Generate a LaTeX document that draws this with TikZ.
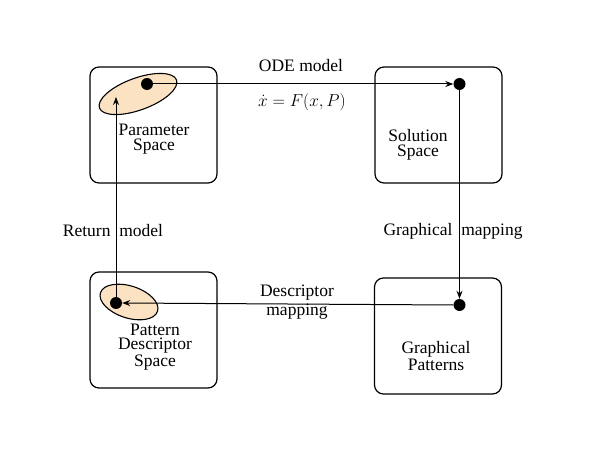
\documentclass[tikz,border=0pt]{standalone}
\usepackage{fontspec}
\setmainfont{Liberation Serif}
\usetikzlibrary{shapes.geometric,arrows.meta}
\definecolor{peach}{HTML}{FBE2C2}
\begin{document}
\begin{tikzpicture}[x=1pt,y=-1pt,
  spacebox/.style={draw, rounded corners=9pt, line width=1.2pt, minimum width=127pt, minimum height=116pt, inner sep=0pt},
  blob/.style={ellipse, draw, line width=1.1pt, fill=peach, inner sep=0pt},
  dot/.style={circle, fill=black, minimum size=12pt, inner sep=0pt},
  lbl/.style={font=\fontsize{17.5}{14.5}\selectfont, align=center, inner sep=0pt},
  conn/.style={line width=1pt, -{Stealth[length=8pt,width=6pt]}}
]
\useasboundingbox (0,0) rectangle (600,449);
% boxes
\node[spacebox] (b1) at (153.5,125) {};
\node[spacebox] (b2) at (438.5,125) {};
\node[spacebox] (b3) at (438,336) {};
\node[spacebox] (b4) at (153.5,330) {};
% ellipses
\node[blob, minimum width=82pt, minimum height=32pt, rotate=20] (e1) at (138,94) {};
\node[blob, minimum width=60pt, minimum height=32pt, rotate=-18] (e2) at (129,302) {};
% dots
\node[dot] (d1) at (147,84) {};
\node[dot] (d2) at (459.5,84) {};
\node[dot] (d3) at (459.5,305) {};
\node[dot] (d4) at (116,303) {};
\coordinate (r1) at (116,97);
% box texts
\node[lbl] (t1) at (154,139) {Parameter\\Space};
\node[lbl] (t2) at (418,145) {Solution\\Space};
\node[lbl] (t3) at (436,356) {Graphical\\Patterns};
\node[lbl] (t4) at (155,347) {Pattern\\Descriptor\\Space};
% connectors
\draw[conn] (d1) -- (d2);
\draw[conn] (d2) -- (d3);
\draw[conn] (d3.west) -- (d4.east);
\draw[conn] (d4.north) -- (r1);
% connector labels
\node[lbl] (l1) at (301,66) {ODE model};
\node[lbl, font=\fontsize{16.5}{18}\selectfont] (l2) at (302,102) {$\dot{x} = F(x,P)$};
\node[lbl] (l3) at (113,231) {Return\ \ model};
\node[lbl] (l4) at (453,231) {Graphical\ \ mapping};
\node[lbl, font=\fontsize{17.5}{19}\selectfont] (l5) at (297,302) {Descriptor\\mapping};
\end{tikzpicture}
\end{document}
